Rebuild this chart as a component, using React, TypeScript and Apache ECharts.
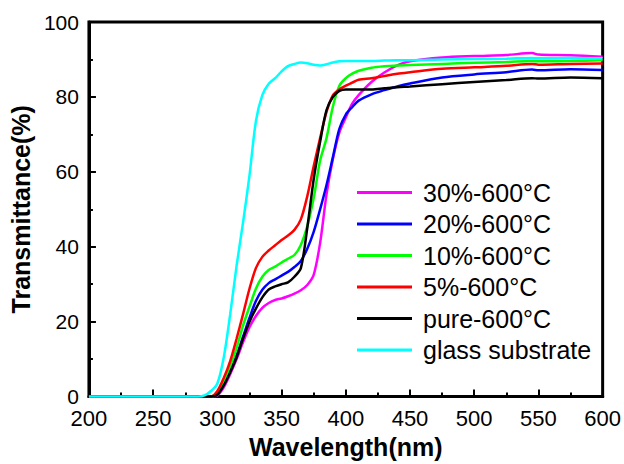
import React, { useEffect, useRef } from "react";
import * as echarts from "echarts";

const wavelengths = [200, 250, 285, 290, 295, 300, 305, 310, 315, 320, 325, 330, 335, 340, 345, 350, 355, 360, 365, 370, 375, 380, 385, 390, 395, 400, 405, 410, 420, 430, 440, 450, 475, 500, 525, 545, 550, 575, 600];

const t30 = [0, 0, 0, 0, 0, 0.3, 2.5, 6, 10, 14.5, 18.5, 21.5, 23.7, 25, 25.8, 26.2, 26.8, 27.5, 28.4, 29.8, 32.5, 41, 54, 63.5, 70.5, 74.5, 78.2, 80.5, 84, 86.5, 88.4, 89.5, 90.5, 90.9, 91.2, 91.7, 91.3, 91.1, 90.7];
const t20 = [0, 0, 0, 0, 0, 0.8, 3.5, 7, 11, 16, 21, 25.5, 28.5, 30.3, 31.3, 32.3, 33.3, 34.6, 36.2, 39.5, 44, 50, 56.5, 64, 71.5, 75.3, 77.3, 79, 80.7, 81.8, 82.8, 83.6, 85.2, 86, 86.6, 87.3, 87.1, 87.4, 87.2];
const t10 = [0, 0, 0, 0, 0, 1, 4, 8, 13, 19, 24, 28.8, 32, 33.8, 34.7, 35.8, 36.8, 37.8, 40.5, 45.5, 53, 63, 69, 77.5, 83, 85, 86.2, 87, 87.8, 88.2, 88.4, 88.5, 88.8, 89.1, 89.3, 89.6, 89.5, 89.6, 89.8];
const t5 = [0, 0, 0, 0, 0, 1.5, 5, 9.5, 15.5, 22, 28.8, 34.3, 37.3, 39, 40.4, 41.8, 43, 44.5, 47.3, 53.5, 61.5, 69, 76, 80.5, 82, 83, 83.8, 84.6, 85, 85.6, 86.2, 86.6, 87.5, 87.9, 88.3, 88.8, 88.6, 88.8, 88.9];
const tPure = [0, 0, 0, 0, 0, 0.5, 3, 6.5, 10.5, 15.5, 20, 23.5, 26.5, 28.6, 29.4, 30, 30.5, 32, 34.3, 45, 58, 68, 76.5, 80, 81.6, 82, 82, 82, 82, 82.3, 82.6, 82.8, 83.4, 84, 84.5, 85, 84.9, 85.2, 85];
const tGlass = [0, 0, 0, 0.3, 1.5, 3.5, 10.5, 22, 35, 46.5, 59, 73.5, 80.5, 83.5, 85, 86.8, 88.2, 88.8, 89.2, 89, 88.6, 88.4, 88.7, 89.2, 89.5, 89.6, 89.6, 89.6, 89.6, 89.7, 89.8, 89.8, 90, 90.1, 90.2, 90.4, 90.3, 90.4, 90.3];

const seriesNames = ["30%-600°C", "20%-600°C", "10%-600°C", "5%-600°C", "pure-600°C", "glass substrate"];
const seriesValues = [t30, t20, t10, t5, tPure, tGlass];
const seriesColors = ["#ff00ff", "#0000ff", "#00ff00", "#ff0000", "#000000", "#00ffff"];

const FONT = "Arial, 'Liberation Sans', sans-serif";

export default function App() {
  const ref = useRef<HTMLDivElement>(null);
  useEffect(() => {
    if (!ref.current) return;
    const chart = echarts.init(ref.current, undefined, { renderer: "svg" });
    chart.setOption({
      animation: false,
      backgroundColor: "#ffffff",
      grid: { left: 85, right: 20, top: 22, bottom: 62, show: true, borderColor: "#000", borderWidth: 3 },
      legend: {
        orient: "vertical",
        left: 352,
        top: 175,
        itemWidth: 55,
        itemHeight: 3,
        itemGap: 6.5,
        icon: "rect",
        textStyle: { fontFamily: FONT, fontSize: 25, color: "#000", lineHeight: 25, padding: [0, 0, 0, 6] },
        data: seriesNames,
      },
      xAxis: {
        type: "value",
        min: 200,
        max: 600,
        interval: 50,
        name: "Wavelength(nm)",
        nameLocation: "middle",
        nameGap: 33,
        nameTextStyle: { fontFamily: FONT, fontSize: 25, fontWeight: "bold", color: "#000" },
        axisLine: { show: true, lineStyle: { color: "#000", width: 3 } },
        axisTick: { show: true, inside: true, length: 7, lineStyle: { color: "#000", width: 2 } },
        minorTick: { show: true, splitNumber: 2, length: 4, lineStyle: { color: "#000", width: 2 } },
        axisLabel: { fontFamily: FONT, fontSize: 22, color: "#000", margin: 13.5, lineHeight: 16 },
        splitLine: { show: false },
      },
      yAxis: {
        type: "value",
        min: 0,
        max: 100,
        interval: 20,
        name: "Transmittance(%)",
        nameLocation: "middle",
        nameGap: 52,
        nameTextStyle: { fontFamily: FONT, fontSize: 25, fontWeight: "bold", color: "#000" },
        axisLine: { show: true, lineStyle: { color: "#000", width: 3 } },
        axisTick: { show: true, inside: true, length: 7, lineStyle: { color: "#000", width: 2 } },
        minorTick: { show: true, splitNumber: 2, length: 4, lineStyle: { color: "#000", width: 2 } },
        axisLabel: { fontFamily: FONT, fontSize: 21, color: "#000", margin: 10, lineHeight: 16 },
        splitLine: { show: false },
      },
      series: seriesNames.map((name, i) => ({
        name,
        type: "line",
        data: wavelengths.map((w, j) => [w, seriesValues[i][j]]),
        showSymbol: false,
        symbol: "none",
        smooth: 0.3,
        clip: false,
        color: seriesColors[i],
        lineStyle: { color: seriesColors[i], width: 2.5 },
      })),
    });
    return () => chart.dispose();
  }, []);
  return <div ref={ref} style={{ position: "fixed", left: 0, top: 0, width: 624, height: 464 }} />;
}
